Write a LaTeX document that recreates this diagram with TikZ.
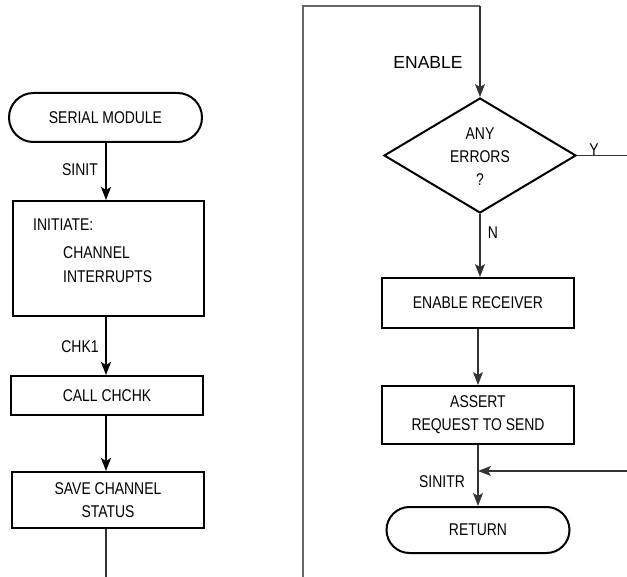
\documentclass[tikz,border=0pt]{standalone}
\usepackage{fontspec}
\setmainfont{Liberation Sans}[FakeStretch=0.82]
\newfontfamily\widefont{Liberation Sans}
\usetikzlibrary{shapes.geometric,shapes.misc,arrows.meta}
\begin{document}
\begin{tikzpicture}[x=1pt,y=-1pt,
  every node/.style={font=\fontsize{17}{23}\selectfont},
  box/.style={draw,line width=2pt,rectangle,inner sep=0pt,align=center},
  term/.style={draw,line width=2pt,rounded rectangle,inner sep=0pt},
  dia/.style={draw,line width=2pt,diamond,inner sep=0pt},
  txt/.style={inner sep=0pt,align=center},
  thick arrow/.style={line width=2pt,-{Stealth[length=13pt,width=10pt,inset=3pt]}},
  thin arrow/.style={line width=1.1pt,draw=black!80,-{Stealth[length=13pt,width=10pt,inset=3pt]}},
  thin line/.style={line width=1.1pt,draw=black!80},
  loop line/.style={line width=1.6pt,draw=black!60}]
\useasboundingbox (0,0) rectangle (627,577);
% left column
\node[term,minimum width=193pt,minimum height=49pt] (sm) at (105.5,117.5) {SERIAL MODULE};
\node[box,minimum width=191pt,minimum height=115pt] (init) at (108.5,258.5) {};
\node[txt,anchor=west] (initA) at (33,225) {INITIATE:};
\node[txt,anchor=west] (initB) at (63,253) {CHANNEL};
\node[txt,anchor=west] (initC) at (63,277) {INTERRUPTS};
\node[box,minimum width=192pt,minimum height=39pt] (chk) at (107,395.5) {CALL CHCHK};
\node[box,minimum width=192pt,minimum height=56pt] (save) at (108,500) {SAVE CHANNEL\\STATUS};
\coordinate (lb) at (106,577);
\draw[thick arrow] (sm.south -| 106,0) -- (init.north -| 106,0);
\draw[thick arrow] (init.south -| 106,0) -- (chk.north -| 106,0);
\draw[thick arrow] (chk.south -| 106,0) -- (save.north -| 106,0);
\draw[thin line] (save.south -| lb) -- (lb);
\node[txt] (sinit) at (80,170) {SINIT};
\node[txt] (chk1) at (80,347) {CHK1};
% right column
\node[dia,minimum width=192pt,minimum height=115pt] (d) at (480,155.5) {};
\node[txt] (dq) at (480,157) {ANY\\ERRORS\\?};
\node[box,minimum width=192pt,minimum height=50pt] (er) at (478,303) {ENABLE RECEIVER};
\node[box,minimum width=192pt,minimum height=58pt] (as) at (478,415) {ASSERT\\REQUEST TO SEND};
\node[term,minimum width=183pt,minimum height=46pt] (ret) at (478,530) {RETURN};
\coordinate (lbot) at (303,577);
\coordinate (ltop) at (303,6);
\coordinate (rtop) at (480,6);
\coordinate (yend) at (627,155.5);
\coordinate (j) at (478,471);
\coordinate (jr) at (627,471);
\draw[loop line] (lbot) -- (ltop) -- (rtop);
\draw[thin arrow] (rtop) -- (d.north);
\draw[thin line] (d.east) -- (yend);
\draw[thin arrow] (d.south) -- (d.south |- er.north);
\draw[thin arrow] (er.south) -- (as.north);
\draw[thin arrow] (as.south) -- (ret.north);
\draw[thin arrow] (jr) -- (j);
\node[txt,font=\widefont\fontsize{17.5}{20}\selectfont] (en) at (428,62) {ENABLE};
\node[txt] (ylab) at (594,150) {Y};
\node[txt] (nlab) at (493,233) {N};
\node[txt] (sinitr) at (442,482) {SINITR};
\end{tikzpicture}
\end{document}
